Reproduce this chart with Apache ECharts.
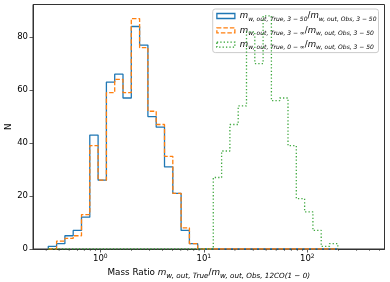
<!DOCTYPE html>
<html><head><meta charset="utf-8">
<script src="https://cdn.jsdelivr.net/npm/echarts@6/dist/echarts.min.js"></script>
<style>html,body{margin:0;padding:0;background:#fff}#c{width:390px;height:282px}</style>
</head><body><div id="c"></div>
<script>
// ---- data ----
const blueEdges = [0.3145,0.3783,0.4550,0.5472,0.6582,0.7917,0.9524,1.1455,1.3779,1.6573,1.9934,2.3977,2.8840,3.4690,4.1726,5.0188,6.0368,7.2611,8.7337,197.2];
const blueCounts = [1,2,5,7,12,43,26,63,66,57,84,77,50,46,31,21,7,2,0];
const orangeEdges = [0.3145,0.3783,0.4550,0.5472,0.6582,0.7917,0.9524,1.1455,1.3779,1.6573,1.9934,2.3977,2.8840,3.4690,4.1726,5.0188,6.0368,7.2611,8.7337,197.2];
const orangeCounts = [0,3,4,5,13,39,26,59,64,59,87,76,52,47,35,21,8,2,0];
const greenEdges = [0.3145,12.35,14.86,17.87,21.50,25.86,31.10,37.41,45.00,54.12,65.10,78.30,94.19,113.3,136.3,163.9,197.2];
const greenCounts = [0,27,37,47,54,82,70,88,56,57,39,19,14,7,1,2];
const xMajorTicks = [1,10,100];
const xMinorTicks = [0.3,0.4,0.5,0.6,0.7,0.8,0.9,2,3,4,5,6,7,8,9,20,30,40,50,60,70,80,90,200,300,400,500];
const yTicks = [0,20,40,60,80];
const seriesNames = ['blue','orange','green'];
const legendLabels = [
  '{m|m}{s|w, out, True, 3 − 50}{n|/}{m|m}{s|w, out, Obs, 3 − 50}',
  '{m|m}{s|w, out, True, 3 − ∞}{n|/}{m|m}{s|w, out, Obs, 3 − 50}',
  '{m|m}{s|w, out, True, 0 − ∞}{n|/}{m|m}{s|w, out, Obs, 3 − 50}'
];
const xAxisTitle = '{n|Mass Ratio }{m|m}{s|w, out, True}{n|/}{m|m}{s|w, out, Obs, 12CO(1 − 0)}';
const yAxisTitle = 'N';

// ---- helpers ----
function stepPoints(edges, counts){
  const pts = [[edges[0], 0]];
  for (let i = 0; i < counts.length; i++){
    pts.push([edges[i], counts[i]]);
    pts.push([edges[i+1], counts[i]]);
  }
  pts.push([edges[edges.length-1], 0]);
  return pts;
}
const FONT = 'DejaVu Sans';
function mathRich(main, sub, lh){
  return {
    n: {fontFamily: FONT, fontSize: main, lineHeight: lh, color: '#000', verticalAlign: 'middle'},
    m: {fontFamily: FONT, fontSize: main, fontStyle: 'italic', lineHeight: lh, color: '#000', verticalAlign: 'middle'},
    s: {fontFamily: FONT, fontSize: sub, fontStyle: 'italic', lineHeight: sub, color: '#000', verticalAlign: 'bottom'}
  };
}
const legendRich = mathRich(8.6, 6.0, 12);
const titleRich = mathRich(8.8, 7.2, 13);
const tickRich = {
  b: {fontFamily: FONT, fontSize: 8.5, lineHeight: 12, color: '#000', verticalAlign: 'middle'},
  p: {fontFamily: FONT, fontSize: 6, lineHeight: 6, color: '#000', verticalAlign: 'top'}
};
const colors = {blue: '#1f77b4', orange: '#ff7f0e', green: '#2ca02c'};
const lineTypes = {blue: 'solid', orange: [4.5, 2], green: [1.3, 2.1]};
const LW = 1.3;

const chart = echarts.init(document.getElementById('c'), null, {renderer: 'canvas'});
chart.setOption({
  animation: false,
  backgroundColor: '#fff',
  grid: {left: 33, right: 5.5, top: 4.5, bottom: 33, show: true, borderColor: '#333', borderWidth: 1, backgroundColor: 'transparent', outerBoundsMode: 'none', containLabel: false},
  xAxis: {
    type: 'log', logBase: 10, min: 0.2238, max: 557,
    name: xAxisTitle, nameLocation: 'middle', nameGap: 16,
    nameTextStyle: {rich: titleRich, fontFamily: FONT, fontSize: 8.8, color: '#000'},
    axisLine: {show: true, lineStyle: {color: '#333', width: 1}},
    axisTick: {show: true, length: 3.5, lineStyle: {color: '#333', width: 0.8}, customValues: xMajorTicks},
    axisLabel: {
      margin: 4, color: '#000', fontFamily: FONT, fontSize: 8.5, customValues: xMajorTicks,
      formatter: function(v){
        const l = Math.log10(v); const r = Math.round(l);
        if (Math.abs(l - r) > 1e-6) return '';
        return '{b|10}{p|' + r + '}';
      },
      rich: tickRich
    },
    splitLine: {show: false}, minorTick: {show: false}
  },
  yAxis: {
    type: 'value', min: 0, max: 92.3, interval: 20,
    name: yAxisTitle, nameLocation: 'middle', nameGap: 19.5, nameRotate: 90, nameMoveOverlap: false,
    nameTextStyle: {fontFamily: FONT, fontSize: 8.8, color: '#000'},
    axisLine: {show: true, lineStyle: {color: '#333', width: 1}},
    axisTick: {show: true, length: 3.5, lineStyle: {color: '#333', width: 0.8}, customValues: yTicks},
    axisLabel: {margin: 5, color: '#000', fontFamily: FONT, fontSize: 8.5, customValues: yTicks,
      formatter: function(v){ return yTicks.indexOf(v) >= 0 ? String(v) : ''; }},
    splitLine: {show: false}
  },
  legend: {
    orient: 'vertical', right: 11.5, top: 9,
    itemWidth: 18, itemHeight: 5, itemGap: 2.3,
    padding: [1, 2, 2, 3.5],
    backgroundColor: 'rgba(255,255,255,0.93)', borderColor: '#cccccc', borderWidth: 1, borderRadius: 2.5,
    selectedMode: false,
    data: seriesNames.map(function(n){
      return {name: n, icon: 'rect', itemStyle: {color: 'rgba(255,255,255,0)', borderColor: colors[n], borderWidth: LW, borderType: lineTypes[n]}};
    }),
    formatter: function(name){ return legendLabels[seriesNames.indexOf(name)]; },
    textStyle: {rich: legendRich, fontFamily: FONT, fontSize: 8.6, color: '#000', lineHeight: 12}
  },
  series: [
    {name: 'blue', type: 'line', data: stepPoints(blueEdges, blueCounts), showSymbol: false, symbol: 'none', silent: true,
      lineStyle: {color: colors.blue, width: LW, type: lineTypes.blue}, itemStyle: {color: colors.blue}, z: 3},
    {name: 'orange', type: 'line', data: stepPoints(orangeEdges, orangeCounts), showSymbol: false, symbol: 'none', silent: true,
      lineStyle: {color: colors.orange, width: LW, type: lineTypes.orange}, itemStyle: {color: colors.orange}, z: 4},
    {name: 'green', type: 'line', data: stepPoints(greenEdges, greenCounts), showSymbol: false, symbol: 'none', silent: true,
      lineStyle: {color: colors.green, width: LW, type: lineTypes.green, opacity: 0.9}, itemStyle: {color: colors.green}, z: 5},
    {name: 'minor', type: 'scatter', data: xMinorTicks.map(function(v){ return [v, 0]; }), symbol: 'rect', symbolSize: [0.7, 2], symbolOffset: [0, 1],
      itemStyle: {color: '#333'}, silent: true, clip: false, z: 6}
  ]
});
</script></body></html>
